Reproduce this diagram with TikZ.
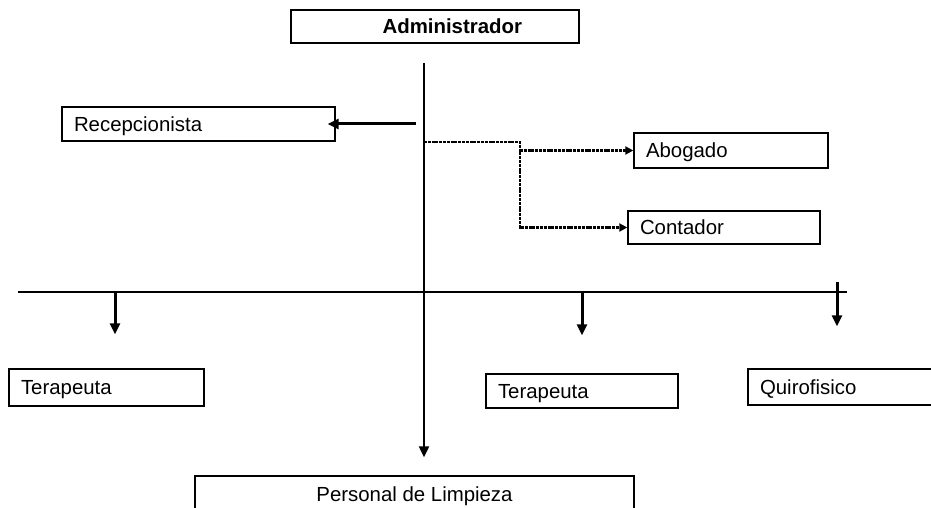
\documentclass[tikz,border=0pt]{standalone}
\usepackage{fontspec}
\setmainfont{Liberation Sans}
\usepackage{tikz}
\usetikzlibrary{arrows.meta}
\tikzset{
  puesto/.style={draw, rectangle, line width=0.7pt, align=left, inner xsep=6pt, inner ysep=0pt, text height=7.3pt, text depth=0pt},
  linea/.style={line width=0.7pt},
  flecha/.style={-{Triangle[length=5.5pt,width=5pt]}, line width=1.5pt},
  punteado/.style={-{Triangle[length=4pt,width=4pt]}, line width=1.1pt, dash pattern=on 1.5pt off 0.4pt}
}

\begin{document}
\begin{tikzpicture}[x=0.5pt, y=-0.5pt, font=\fontsize{10.2}{12}\selectfont]
  \useasboundingbox (0,0) rectangle (931,508);

  \node[puesto, align=right, inner xsep=28.5pt, text width=87pt, font=\fontsize{10.2}{12}\selectfont\bfseries, minimum height=16.5pt] (admin) at (435,26.5) {Administrador};

  \node[puesto, text width=124.5pt, minimum height=17pt] (recep) at (198.5,124) {Recepcionista};
  \node[puesto, text width=85pt, minimum height=17.5pt] (abog) at (731,150.5) {Abogado};
  \node[puesto, text width=84pt, minimum height=16.5pt] (cont) at (724,227.5) {Contador};

  \node[puesto, text width=85.5pt, minimum height=18.5pt] (ter1) at (106.5,387.5) {Terapeuta};
  \node[puesto, text width=84pt, minimum height=17pt] (ter2) at (582,391) {Terapeuta};
  \node[puesto, text width=88pt, minimum height=18pt] (quiro) at (848,387) {Quirofisico};

  \node[puesto, align=center, minimum width=219.5pt, minimum height=18.5pt] (limp) at (414.5,494.5) {Personal de Limpieza};

  % eje vertical
  \coordinate (top) at (424,63);
  \coordinate (bend) at (424,387);
  \draw[linea] (top) -- (bend);
  \draw[flecha, line width=1.1pt, shorten >=9pt] (bend) -- (bend |- limp.north);

  % recepcion y asesores externos
  \coordinate (r0) at (416,124);
  \draw[flecha, shorten >=-4pt] (r0) -- (recep.east);
  \coordinate (d0) at (424,142);
  \coordinate (d1) at (520,142);
  \draw[punteado] (d0) -- (d1) |- (cont.west);
  \draw[punteado] (d1 |- abog.west) -- (abog.west);

  % eje horizontal
  \coordinate (h0) at (18,292);
  \coordinate (h1) at (847,292);
  \draw[linea] (h0) -- (h1);

  \coordinate (a1) at (115,292);
  \coordinate (a2) at (582,292);
  \coordinate (a3) at (837,282);
  \draw[flecha, shorten >=17pt] (a1) -- (a1 |- ter1.north);
  \draw[flecha, shorten >=19pt] (a2) -- (ter2.north);
  \draw[flecha, shorten >=21pt] (a3) -- (a3 |- quiro.north);
\end{tikzpicture}
\end{document}
